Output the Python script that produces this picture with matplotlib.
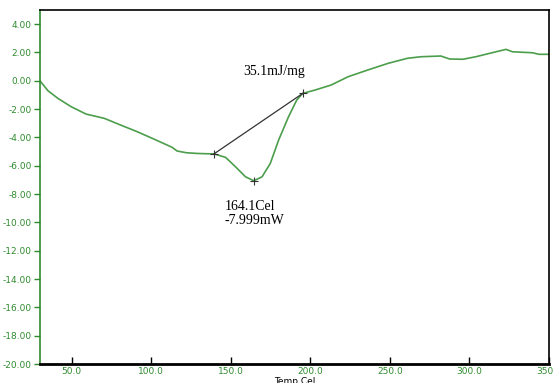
import matplotlib
matplotlib.use("Agg")
from matplotlib import pyplot as plt

# curva DSC
temp = [30, 35, 41.25, 49.6, 59, 70.4, 80.8, 91.25, 101.7, 113.1, 116.25, 122, 128.75, 134,
        139.4, 146.7, 152.9, 159.2, 164.4, 169.6, 174.8, 180, 186.25, 191.4, 195.2, 203, 213,
        223.75, 236, 248.75, 261, 269.6, 282, 287.5, 295.8, 304, 316.7, 323, 327, 339.6,
        343.75, 350]
flujo = [0.0, -0.70, -1.24, -1.83, -2.35, -2.65, -3.13, -3.60, -4.12, -4.70, -4.96, -5.08, -5.13, -5.15,
         -5.16, -5.41, -6.07, -6.78, -7.06, -6.78, -5.83, -4.19, -2.54, -1.36, -0.89, -0.65, -0.30,
         0.29, 0.76, 1.23, 1.59, 1.70, 1.75, 1.54, 1.52, 1.70, 2.05, 2.22, 2.05, 1.98,
         1.87, 1.87]

# linea base y pico
base_t = [139.4, 195.2]
base_v = [-5.16, -0.89]
pico_t = 164.4
pico_v = -7.06

entalpia = "35.1mJ/mg"
pico_txt = "164.1Cel\n-7.999mW"

xticks = [50, 100, 150, 200, 250, 300, 350]
yticks = [4, 2, 0, -2, -4, -6, -8, -10, -12, -14, -16, -18, -20]

verde = "#2f8a2f"

fig = plt.figure(figsize=(5.53, 3.83), dpi=100)
ax = fig.add_axes([0.0723, 0.0496, 0.9205, 0.9243])

ax.plot(temp, flujo, color="#4c9e4c", lw=1.2)
ax.plot(base_t, base_v, color="#333333", lw=0.9)
ax.plot(base_t + [pico_t], base_v + [pico_v], ls="none", marker="+", ms=6, color="#333333", mew=0.8)

ax.text(177, 0.2, entalpia, family="Liberation Serif", fontsize=10, ha="center", va="bottom")
ax.text(146, -8.4, pico_txt, family="Liberation Serif", fontsize=10, ha="left", va="top", linespacing=1.1)

ax.set_xlim(30, 350)
ax.set_ylim(-20, 5)
ax.set_xticks(xticks)
ax.set_xticklabels([f"{t:.1f}" for t in xticks])
ax.set_yticks(yticks)
ax.set_yticklabels([f"{v:.2f}" for v in yticks])

ax.tick_params(axis="y", colors=verde, labelsize=6.5, length=4, width=1, direction="out", pad=2)
ax.tick_params(axis="x", colors="black", labelcolor=verde, labelsize=6.5, length=5, width=1,
               direction="in", pad=2)
ax.spines["left"].set_color(verde)
ax.spines["left"].set_linewidth(1.2)
ax.spines["bottom"].set_linewidth(2)
ax.spines["top"].set_linewidth(1.2)
ax.spines["right"].set_linewidth(1.2)

ax.set_xlabel("Temp Cel", fontsize=6.5, labelpad=1)

fig.savefig("out.png", dpi=100)
